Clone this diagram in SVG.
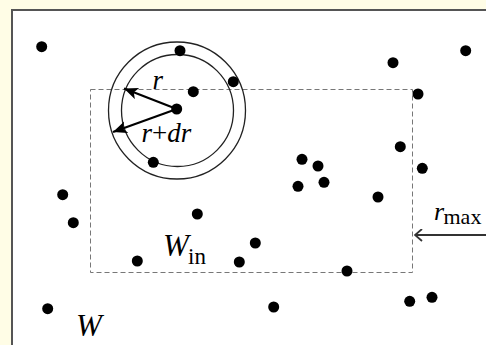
<svg xmlns="http://www.w3.org/2000/svg" width="486" height="345" viewBox="0 0 486 345">
<defs>
<style>
.dot{fill:#000}
.ring{fill:none;stroke:#222;stroke-width:1.3}
.win{fill:none;stroke:#777;stroke-width:1;stroke-dasharray:5,3}
.ital{font-family:"Liberation Serif","Times New Roman",serif;font-style:italic;fill:#000}
.rom{font-family:"Liberation Serif","Times New Roman",serif;fill:#000}
.arr{stroke:#000;stroke-width:2.2;fill:none}
</style>
<marker id="ah" markerUnits="userSpaceOnUse" markerWidth="16" markerHeight="14" refX="14" refY="6" orient="auto">
<path d="M0,0 L14,6 L0,12 L3.5,6 z" fill="#000"/>
</marker>
<marker id="oh" markerUnits="userSpaceOnUse" markerWidth="14" markerHeight="14" refX="1" refY="6" orient="auto">
<path d="M8,0 L1,6 L8,12" fill="none" stroke="#333" stroke-width="1.8"/>
</marker>
</defs>
<rect x="0" y="0" width="486" height="345" fill="#fffde6"/>
<rect x="12" y="10" width="480" height="345" fill="#fff" stroke="#555" stroke-width="2"/>
<g id="window-in">
<rect class="win" x="90.5" y="89.5" width="322" height="183"/>
<text class="ital" x="163" y="256" font-size="31">W</text>
<text class="rom" x="188" y="264" font-size="23">in</text>
</g>
<g id="window">
<text class="ital" x="76" y="336" font-size="31">W</text>
</g>
<g id="rings">
<circle class="ring" cx="177" cy="110.5" r="68.5"/>
<circle class="ring" cx="177.5" cy="110.5" r="56"/>
</g>
<g id="points">
<circle class="dot" cx="41.7" cy="46.7" r="5.5"/>
<circle class="dot" cx="180" cy="50.7" r="5.5"/>
<circle class="dot" cx="193.3" cy="91.7" r="5.5"/>
<circle class="dot" cx="233.3" cy="81.7" r="5.5"/>
<circle class="dot" cx="176.7" cy="109" r="5.5"/>
<circle class="dot" cx="153.3" cy="162.3" r="5.5"/>
<circle class="dot" cx="393" cy="62.7" r="5.5"/>
<circle class="dot" cx="465.7" cy="50.7" r="5.5"/>
<circle class="dot" cx="418" cy="94" r="5.5"/>
<circle class="dot" cx="400.3" cy="146.7" r="5.5"/>
<circle class="dot" cx="302" cy="159.3" r="5.5"/>
<circle class="dot" cx="318" cy="166" r="5.5"/>
<circle class="dot" cx="422.3" cy="168.3" r="5.5"/>
<circle class="dot" cx="62.7" cy="194.7" r="5.5"/>
<circle class="dot" cx="73.3" cy="222.7" r="5.5"/>
<circle class="dot" cx="197.3" cy="214" r="5.5"/>
<circle class="dot" cx="137.3" cy="261" r="5.5"/>
<circle class="dot" cx="239.3" cy="262" r="5.5"/>
<circle class="dot" cx="47.7" cy="308.7" r="5.5"/>
<circle class="dot" cx="298" cy="186.3" r="5.5"/>
<circle class="dot" cx="324" cy="182.3" r="5.5"/>
<circle class="dot" cx="378" cy="197" r="5.5"/>
<circle class="dot" cx="255.3" cy="243" r="5.5"/>
<circle class="dot" cx="347" cy="271" r="5.5"/>
<circle class="dot" cx="273.7" cy="307" r="5.5"/>
<circle class="dot" cx="409.7" cy="301.3" r="5.5"/>
<circle class="dot" cx="432" cy="297.3" r="5.5"/>
</g>
<g id="connectors">
<line class="arr" x1="176.7" y1="109" x2="124" y2="88.5" marker-end="url(#ah)"/>
<line class="arr" x1="176.7" y1="109" x2="113" y2="132" marker-end="url(#ah)"/>
<line x1="415" y1="235" x2="486" y2="235" stroke="#333" stroke-width="1.8" marker-start="url(#oh)"/>
</g>
<g id="labels">
<text class="ital" x="152.5" y="89" font-size="27">r</text>
<text class="ital" x="141.5" y="141.5" font-size="27">r<tspan class="rom" font-style="normal">+</tspan>dr</text>
<text class="ital" x="434" y="220" font-size="26">r</text>
<text class="rom" x="443.5" y="224" font-size="22">max</text>
</g>
</svg>
